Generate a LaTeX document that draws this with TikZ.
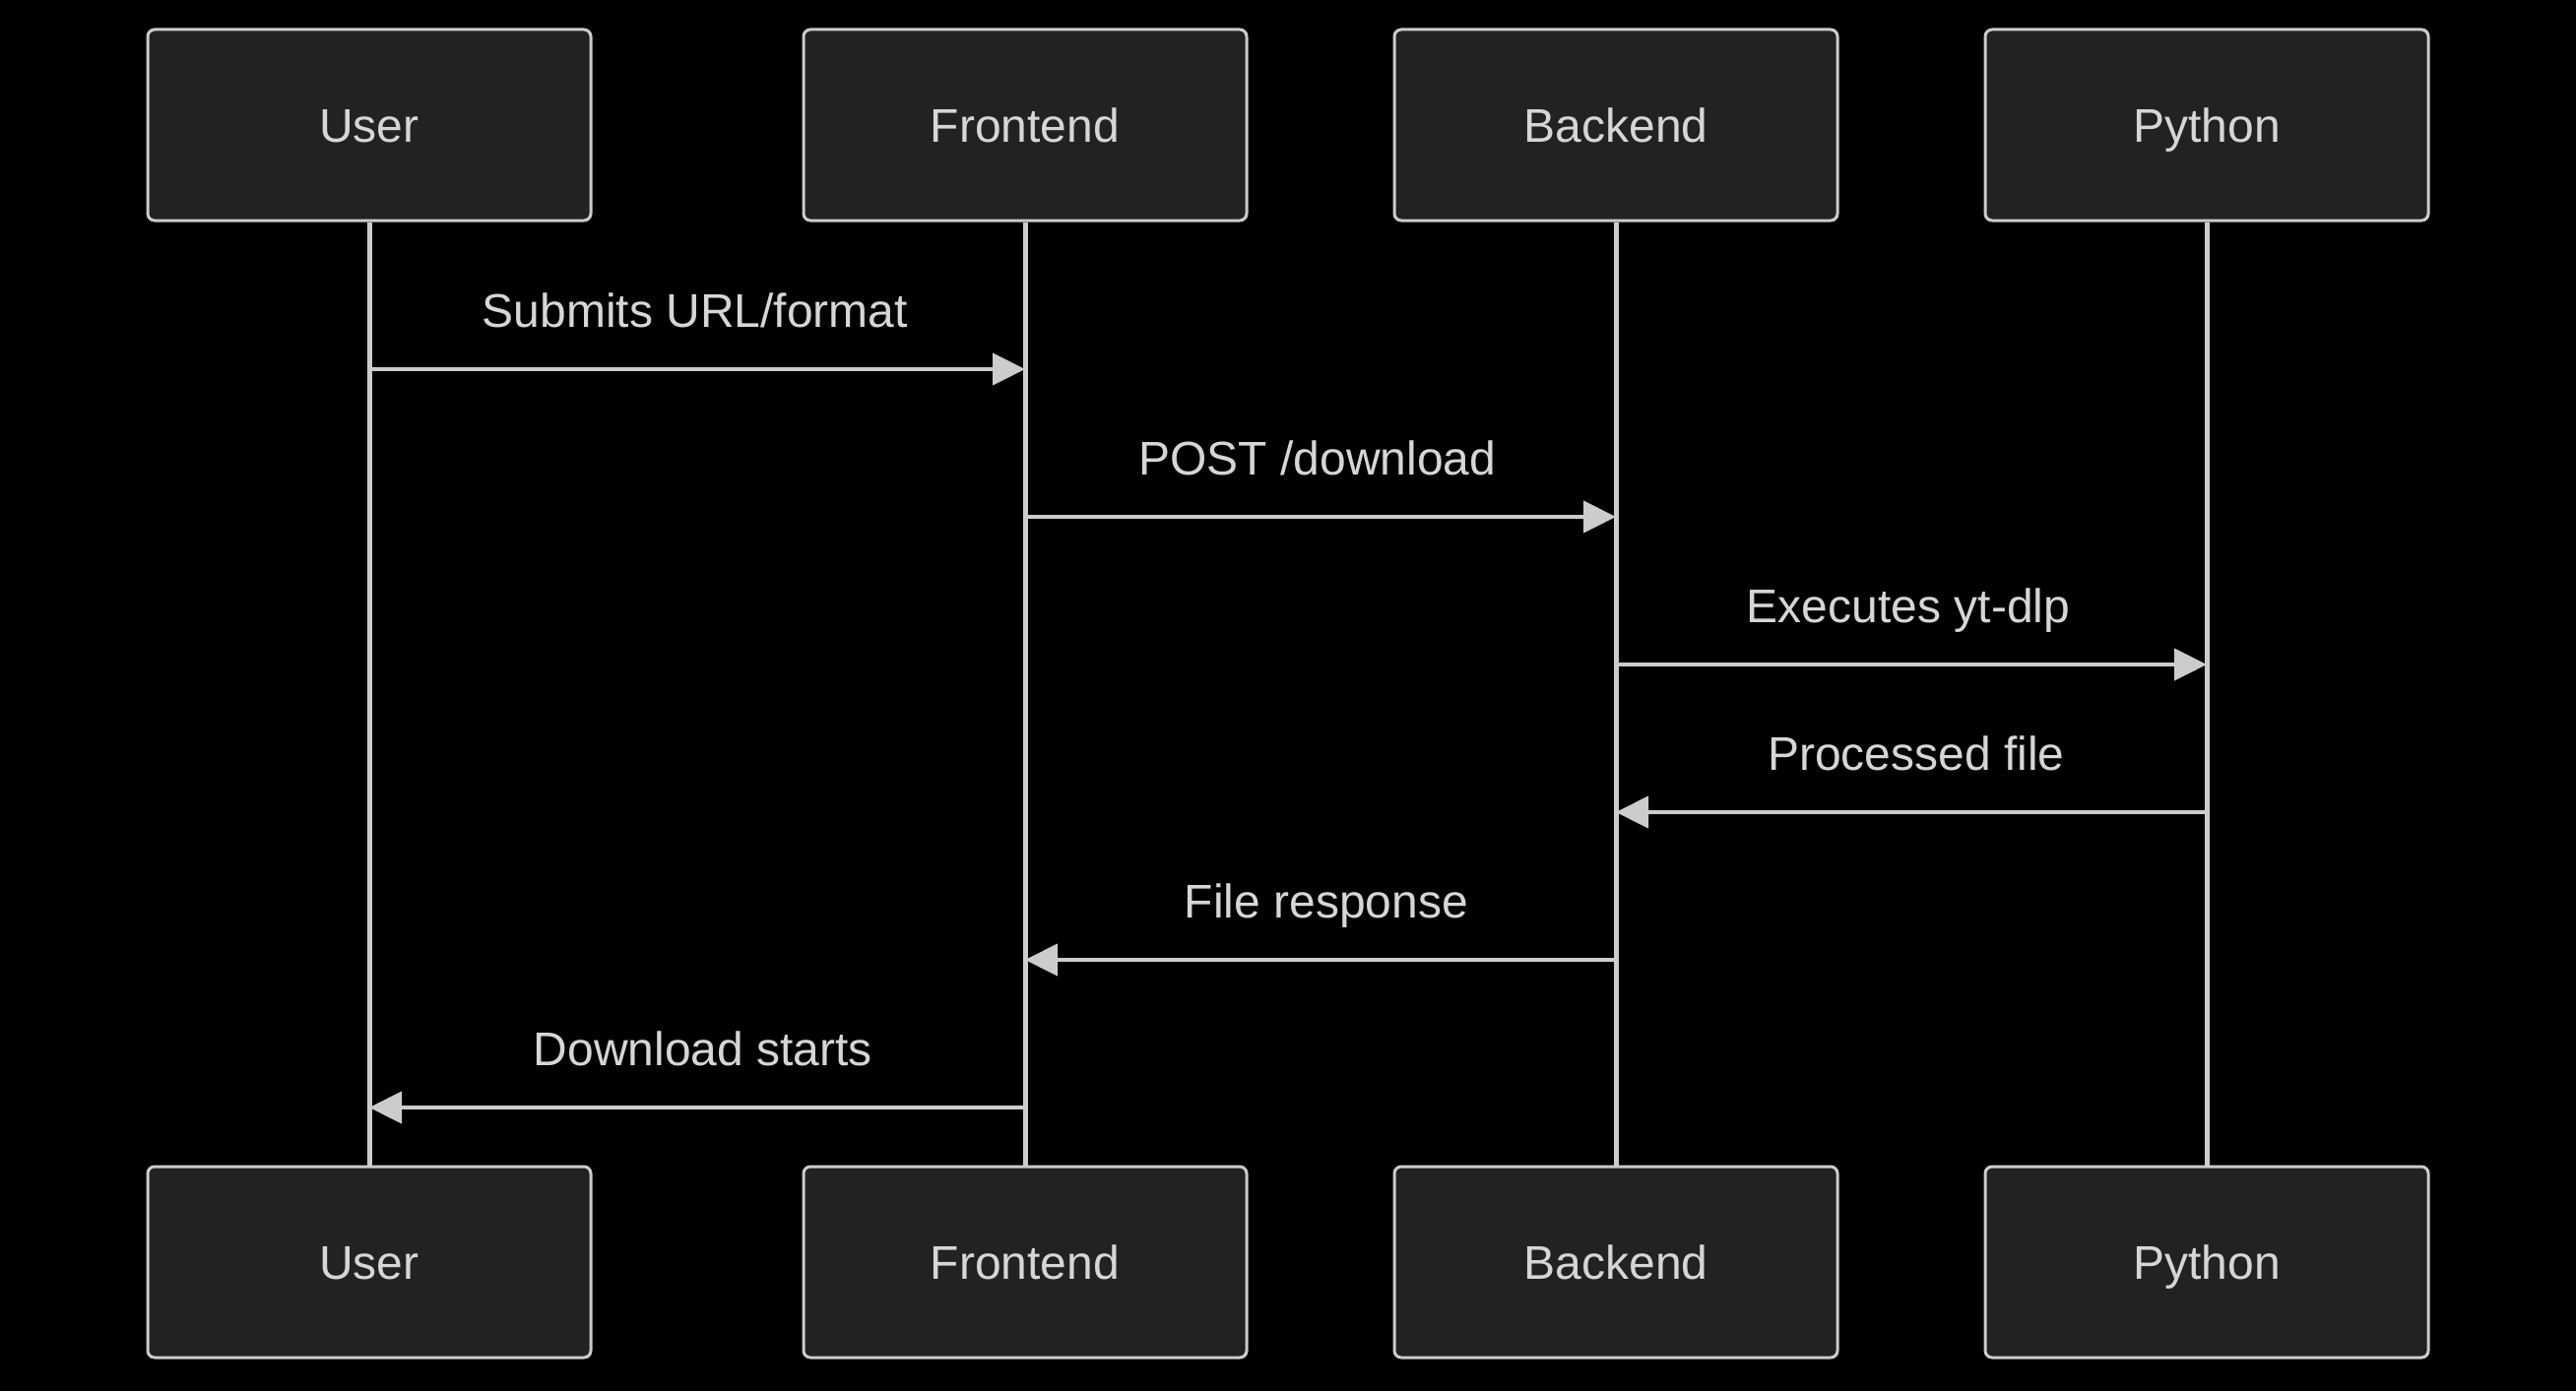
\documentclass[tikz,border=0pt]{standalone}
\usepackage{fontspec}
\setmainfont{Liberation Sans}
\usetikzlibrary{arrows.meta}
\definecolor{bgc}{RGB}{0,0,0}
\definecolor{boxfill}{RGB}{33,35,35}
\definecolor{linec}{RGB}{204,204,204}
\definecolor{textc}{RGB}{214,214,214}
\tikzset{
  actor/.style={draw=linec, line width=1.5pt, fill=boxfill, rounded corners=3.5pt,
    minimum width=225pt, minimum height=97pt, inner sep=0pt,
    text height=17.2pt, text depth=0pt,
    text=textc, font=\fontsize{24pt}{28pt}\selectfont},
  lifeline/.style={draw=linec, line width=2.5pt},
  msg/.style={draw=linec, line width=2.2pt, -{Triangle[length=16.5pt,width=16pt]}},
  msglabel/.style={text=textc, font=\fontsize{24pt}{28pt}\selectfont, inner sep=0pt,
    text height=17.2pt, text depth=0pt}
}
\begin{document}
\begin{tikzpicture}[x=0.5pt,y=-0.5pt]
\fill[bgc] (0,0) rectangle (2616,1413);
\useasboundingbox (0,0) rectangle (2616,1413);
% actors top
\node[actor] (uT) at (375,127) {User};
\node[actor] (fT) at (1041,127) {Frontend};
\node[actor] (bT) at (1641,127) {Backend};
\node[actor] (pT) at (2241,127) {Python};
% actors bottom
\node[actor] (uB) at (375,1282) {User};
\node[actor] (fB) at (1041,1282) {Frontend};
\node[actor] (bB) at (1641,1282) {Backend};
\node[actor] (pB) at (2241,1282) {Python};
% lifelines
\draw[lifeline] (uT.south) -- (uB.north);
\draw[lifeline] (fT.south) -- (fB.north);
\draw[lifeline] (bT.south) -- (bB.north);
\draw[lifeline] (pT.south) -- (pB.north);
% message rows
\coordinate (r1) at (0,375);
\coordinate (r2) at (0,525);
\coordinate (r3) at (0,675);
\coordinate (r4) at (0,825);
\coordinate (r5) at (0,975);
\coordinate (r6) at (0,1125);
\draw[msg] (uT |- r1) -- (fT |- r1);
\node[msglabel] (l1) at (706,315) {Submits URL/format};
\draw[msg] (fT |- r2) -- (bT |- r2);
\node[msglabel] (l2) at (1338,465) {POST /download};
\draw[msg] (bT |- r3) -- (pT |- r3);
\node[msglabel] (l3) at (1938,615) {Executes yt-dlp};
\draw[msg] (pT |- r4) -- (bT |- r4);
\node[msglabel] (l4) at (1946,765) {Processed file};
\draw[msg] (bT |- r5) -- (fT |- r5);
\node[msglabel] (l5) at (1347,915) {File response};
\draw[msg] (fT |- r6) -- (uT |- r6);
\node[msglabel] (l6) at (714,1065) {Download starts};
\end{tikzpicture}
\end{document}
